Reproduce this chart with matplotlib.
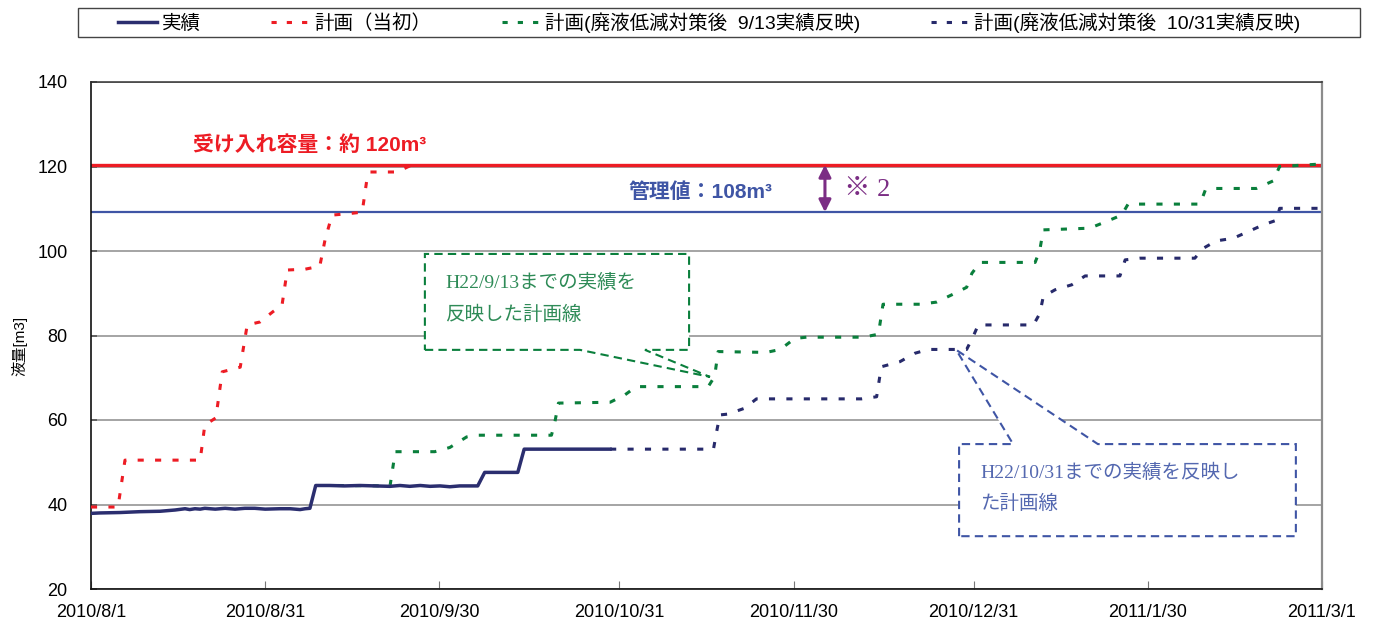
import pandas as pd
import matplotlib.pyplot as plt
from matplotlib.lines import Line2D
from matplotlib.patches import Polygon, Rectangle

plt.rcParams['font.family'] = ['Liberation Sans', 'Noto Sans CJK JP', 'DejaVu Sans']

START = pd.Timestamp('2010-08-01')
tick_labels = ['2010/8/1', '2010/8/31', '2010/9/30', '2010/10/31',
               '2010/11/30', '2010/12/31', '2011/1/30', '2011/3/1']

# days from 2010/8/1, liquid volume [m3]
actual_day = [0, 1.5, 5.0, 8.4, 11.9, 14.5, 16.2, 17.0, 17.9, 18.8, 19.6, 21.4, 23.1, 24.8,
              26.5, 28.2, 30.0, 32.5, 34.3, 36.0, 36.9, 37.7, 38.7, 41.1, 43.7, 46.3, 48.9,
              51.5, 53.2, 54.9, 56.7, 58.4, 60.1, 61.8, 63.5, 66.6, 67.8, 73.5, 74.6, 89.4]
actual_val = [37.9, 38.0, 38.1, 38.3, 38.4, 38.7, 39.0, 38.8, 39.0, 38.9, 39.1, 38.9, 39.1, 38.9,
              39.1, 39.1, 38.9, 39.0, 39.0, 38.8, 39.0, 39.1, 44.5, 44.5, 44.4, 44.5, 44.4,
              44.3, 44.5, 44.3, 44.5, 44.3, 44.4, 44.2, 44.4, 44.4, 47.6, 47.6, 53.1, 53.1]

plan0_day = [0, 4.65, 5.85, 18.8, 19.6, 21.5, 22.6, 25.7, 26.9, 29.1, 31.3, 32.9, 33.8, 36.9,
             39.4, 40.3, 41.5, 44.1, 46.7, 47.5, 48.0, 52.7, 55.3]
plan0_val = [39.4, 39.4, 50.5, 50.5, 58.8, 60.5, 71.4, 72.5, 82.5, 83.2, 85.6, 87.2, 95.5, 95.7,
             96.4, 102.6, 108.5, 108.8, 109.2, 116.8, 118.7, 118.7, 120.4]

plan913_day = [42.5, 51.5, 52.4, 59.2, 61.8, 64.7, 66.4, 79.3, 79.9, 80.5, 89.4, 91.9, 93.9, 106.3,
               107.4, 108.0, 116.3, 118.7, 121.2, 123.2, 133.0, 135.6, 136.4, 142.8, 145.6, 148.2,
               150.8, 151.7, 153.1, 162.6, 163.4, 164.0, 172.0, 174.9, 177.5, 178.6, 191.0, 191.9,
               193.3, 200.7, 203.6, 204.7, 212]
plan913_val = [44.5, 44.4, 52.5, 52.5, 53.5, 56.0, 56.4, 56.4, 59.6, 64.0, 64.2, 65.9, 67.9, 67.9,
               70.3, 76.2, 76.0, 76.7, 79.3, 79.6, 79.6, 80.3, 87.4, 87.4, 87.9, 89.6,
               91.4, 94.7, 97.3, 97.3, 100.2, 105.0, 105.4, 107.0, 108.5, 111.1, 111.1, 114.4,
               114.8, 114.8, 116.6, 120.0, 120.6]

plan1031_day = [89.4, 107.2, 107.7, 108.3, 109.7, 112.6, 114.6, 132.7, 135.3, 136.1, 139.3, 141.9,
                144.2, 150.8, 151.9, 152.8, 162.3, 163.4, 164.0, 166.0, 168.9, 171.2, 177.2,
                178.1, 180.6, 190.1, 191.5, 193.8, 196.7, 199.3, 201.9, 204.2, 204.7, 212]
plan1031_val = [53.1, 53.1, 56.9, 61.2, 61.4, 62.8, 65.0, 65.0, 65.5, 72.6, 73.8, 75.8,
                76.7, 76.7, 79.7, 82.5, 82.5, 85.2, 89.2, 90.8, 92.0, 94.1, 94.1,
                97.9, 98.3, 98.3, 100.6, 102.4, 103.0, 104.6, 106.2, 107.3, 110.1, 110.1]

capacity = 120.4
control = 109.2

NAVY = '#2b2e6f'
RED = '#ed1c24'
GREEN = '#0a7f3c'
NAVY2 = '#272a6b'
BLUE = '#3f55a5'
PURPLE = '#7b2d84'
DOTS = (0, (2, 3.7))
SERIF_JP = ['Liberation Serif', 'Noto Sans CJK JP']

fig = plt.figure(figsize=(13.77, 6.29), dpi=100)
ax = fig.add_axes([91 / 1377, 1 - 589 / 629, 1231 / 1377, 507 / 629])
ax.set_axisbelow(True)

ax.axhline(capacity, color=RED, lw=2.4, zorder=2)
ax.axhline(control, color=BLUE, lw=1.6, zorder=2)

ax.plot(plan0_day, plan0_val, color=RED, lw=2.2, linestyle=DOTS, zorder=3)
ax.plot(plan913_day, plan913_val, color=GREEN, lw=2.2, linestyle=DOTS, zorder=3)
ax.plot(plan1031_day, plan1031_val, color=NAVY2, lw=2.2, linestyle=DOTS, zorder=3)
ax.plot(actual_day, actual_val, color=NAVY, lw=2.5, zorder=4)

# axes
ax.set_xlim(0, 212)
ax.set_ylim(20, 140)
ax.set_yticks(range(20, 141, 20))
xt = [(pd.Timestamp(t.replace('/', '-')) - START).days for t in tick_labels]
ax.set_xticks(xt)
ax.set_xticklabels(tick_labels)
ax.tick_params(axis='x', direction='in', length=6, width=0.8, color='#777', pad=11, labelsize=13)
ax.tick_params(axis='y', direction='in', length=4, width=1.2, color='#555', pad=17, labelsize=13)
ax.grid(axis='y', color='#8c8c8c', lw=1.1)
for s in ['left', 'bottom']:
    ax.spines[s].set_color('#111')
    ax.spines[s].set_linewidth(1.2)
ax.spines['top'].set_color('#333')
ax.spines['top'].set_linewidth(1.1)
ax.spines['right'].set_color('#8c8c8c')
ax.spines['right'].set_linewidth(1.6)
ax.set_ylabel('液量[m3]', fontsize=11)
ax.yaxis.set_label_coords(-0.052, 0.48)

# annotations
ax.text(37.7, 125.1, '受け入れ容量：約 120m³', color=RED, fontsize=15, fontweight='bold',
        ha='center', va='center')
ax.text(104.9, 114.0, '管理値：108m³', color=BLUE, fontsize=15, fontweight='bold',
        ha='center', va='center')
ax.annotate('', xy=(126.4, control), xytext=(126.4, capacity),
            arrowprops=dict(arrowstyle='<|-|>', color=PURPLE, lw=2.2, mutation_scale=18,
                            shrinkA=0, shrinkB=0))
ax.text(129.7, 114.4, '※ 2', color=PURPLE, fontsize=19, ha='left', va='center',
        family=SERIF_JP)

green_box = Polygon([(57.5, 76.6), (84.2, 76.6), (106.6, 70.2), (95.4, 76.6), (103.0, 76.6),
                     (103.0, 99.3), (57.5, 99.3)], closed=True, facecolor='white',
                    edgecolor=GREEN, lw=1.5, linestyle=(0, (4, 2.5)), zorder=1.5)
ax.add_patch(green_box)
ax.text(61.0, 92.4, 'H22/9/13までの実績を', color='#2e8b57', fontsize=14, ha='left',
        va='center', family=SERIF_JP, zorder=5)
ax.text(61.0, 84.9, '反映した計画線', color='#2e8b57', fontsize=14, ha='left',
        va='center', family=SERIF_JP, zorder=5)

blue_box = Polygon([(149.5, 32.5), (149.5, 54.3), (158.8, 54.3), (149.0, 76.6), (173.4, 54.3),
                    (207.5, 54.3), (207.5, 32.5)], closed=True, facecolor='white',
                   edgecolor=BLUE, lw=1.5, linestyle=(0, (4, 2.5)), zorder=1.5)
ax.add_patch(blue_box)
ax.text(153.1, 47.5, 'H22/10/31までの実績を反映し', color='#5468b0', fontsize=14, ha='left',
        va='center', family=SERIF_JP, zorder=5)
ax.text(153.1, 40.1, 'た計画線', color='#5468b0', fontsize=14, ha='left',
        va='center', family=SERIF_JP, zorder=5)

# legend: frame drawn separately so it spans the full width
fig.add_artist(Rectangle((78 / 1377, 1 - 37 / 629), 1282 / 1377, 29 / 629,
                         transform=fig.transFigure, fill=False, edgecolor='#444', lw=1.0))
legdash = (0, (1.7, 3.3))
handles = [Line2D([], [], color=NAVY, lw=2.5),
           Line2D([], [], color=RED, lw=2.2, linestyle=legdash),
           Line2D([], [], color=GREEN, lw=2.2, linestyle=legdash),
           Line2D([], [], color=NAVY2, lw=2.2, linestyle=legdash)]
labels = ['実績', '計画（当初）', '計画(廃液低減対策後  9/13実績反映)', '計画(廃液低減対策後  10/31実績反映)']
fig.legend(handles, labels, loc='center left', ncol=4, frameon=False,
           bbox_to_anchor=(118 / 1377, 1 - 22.5 / 629),
           fontsize=14, handlelength=2.0, handletextpad=0.25, columnspacing=3.6,
           borderpad=0, borderaxespad=0)

fig.savefig('out.png', dpi=100)
